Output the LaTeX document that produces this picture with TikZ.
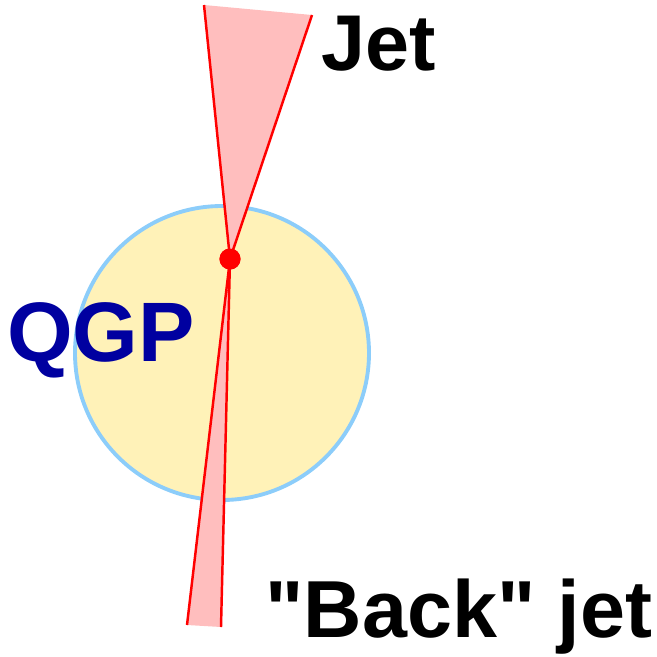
\documentclass[tikz,border=0pt]{standalone}
\usepackage{fontspec}
\setmainfont{Liberation Sans}
\usetikzlibrary{positioning}
\definecolor{plasma}{RGB}{255,242,184}
\definecolor{rim}{RGB}{140,205,250}
\definecolor{conepink}{RGB}{255,190,190}
\definecolor{qgpblue}{RGB}{0,0,160}
\tikzset{
  cone/.style={fill=conepink, draw=none},
  coneedge/.style={red, line width=0.7pt},
  lbl/.style={font=\fontsize{23}{28}\selectfont\bfseries, inner sep=0pt}
}
\begin{document}
\begin{tikzpicture}[x=0.01cm,y=-0.01cm]
    \useasboundingbox (0,0) rectangle (656,657);

    % Plasma
    \draw[rim, line width=1.1pt, fill=plasma] (222,353) circle (147);

    % Jet axes
    \node[circle, fill=red, inner sep=0pt, minimum size=0.21cm] (vtx) at (230,259) {};
    \coordinate (jl) at (204,5);
    \coordinate (jr) at (312,15);
    \coordinate (bl) at (187,625);
    \coordinate (br) at (221,627);

    % Jet cone
    \fill[cone] (vtx.center) -- (jl) -- (jr) -- cycle;
    \draw[coneedge] (jl) -- (vtx.center) -- (jr);

    % Back jet cone
    \fill[cone] (vtx.center) -- (bl) -- (br) -- cycle;
    \draw[coneedge] (bl) -- (vtx.center) -- (br);
    \node[circle, fill=red, inner sep=0pt, minimum size=0.21cm] at (vtx) {};

    % Labels
    \node[lbl, anchor=base, font=\fontsize{22.5}{28}\selectfont\bfseries] (jet) at (379,70) {Jet};
    \node[lbl, anchor=base, text=qgpblue, font=\fontsize{24}{28}\selectfont\bfseries] (qgp) at (101,361) {QGP};
    \node[lbl, anchor=base] (back) at (459,637) {\textquotedbl Back\textquotedbl{} jet};

\end{tikzpicture}
\end{document}
